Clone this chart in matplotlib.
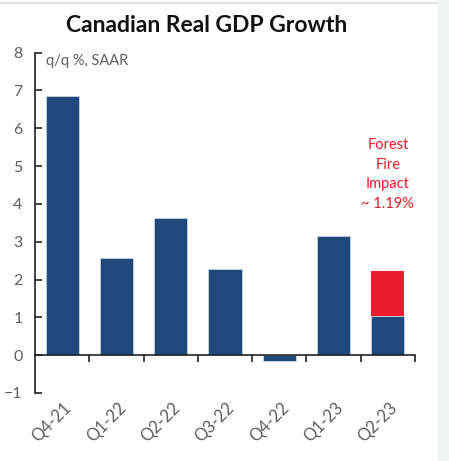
import matplotlib
matplotlib.use("Agg")
import matplotlib.pyplot as plt
import matplotlib.transforms as mtransforms
from matplotlib.patches import Rectangle
from matplotlib.lines import Line2D

categories = ["Q4-21", "Q1-22", "Q2-22", "Q3-22", "Q4-22", "Q1-23", "Q2-23"]
gdp_growth = [6.85, 2.58, 3.63, 2.27, -0.15, 3.15, 1.04]
fire_impact = [0, 0, 0, 0, 0, 0, 1.19]
yticks = [-1, 0, 1, 2, 3, 4, 5, 6, 7, 8]

BLUE = "#1f497d"
RED = "#ed1b2e"
GREY = "#5e5e5e"

plt.rcParams['font.family'] = ['Lato', 'DejaVu Sans']

W, H = 449, 461
fig = plt.figure(figsize=(W / 100, H / 100), dpi=100)
fig.patch.set_facecolor("white")

# right grey strip & top line (screenshot frame)
fig.patches.append(Rectangle((438 / W, 0), 1 - 438 / W, 1, transform=fig.transFigure,
                             facecolor="#f2f3f3", edgecolor="none", zorder=0))
fig.lines.append(Line2D([0, 438 / W], [1 - 3 / H, 1 - 3 / H], transform=fig.transFigure,
                        color="#e2e2e2", lw=1.5))

left, right = 35 / W, 415 / W
y_top_px, y_bot_px = 52.6, 393.0
ax = fig.add_axes([left, 1 - y_bot_px / H, right - left, (y_bot_px - y_top_px) / H])
ax.set_facecolor("white")

x = list(range(len(categories)))
ax.bar(x, gdp_growth, width=0.61, color=BLUE, edgecolor="#c7d3e3", linewidth=0.6, zorder=2)
ax.bar(x, fire_impact, bottom=gdp_growth, width=0.61, color=RED, edgecolor="none",
       linewidth=0, zorder=3)

ax.set_xlim(-0.5, len(categories) - 0.5)
ax.set_ylim(-1, 8)

for s in ["top", "right"]:
    ax.spines[s].set_visible(False)
ax.spines["left"].set_color("#222222")
ax.spines["left"].set_linewidth(1.2)
ax.spines["bottom"].set_position(("data", 0))
ax.spines["bottom"].set_color("#222222")
ax.spines["bottom"].set_linewidth(1.2)
ax.spines["bottom"].set_zorder(4)

ax.set_yticks(yticks)
ax.tick_params(axis="y", direction="in", length=5, width=1.2, color="#222222",
               labelsize=11.5, labelcolor=GREY, pad=9)

ax.set_xticks(x)
ax.set_xticklabels(categories)
ax.set_xticks([i + 0.5 for i in range(len(categories))], minor=True)
ax.tick_params(axis="x", which="major", length=0, pad=36, labelsize=12, labelcolor=GREY)
ax.tick_params(axis="x", which="minor", direction="out", length=5, width=1.2, color="#222222")
offset = mtransforms.ScaledTranslation(7 / 100, 0, fig.dpi_scale_trans)
for lab in ax.get_xticklabels():
    lab.set_rotation(45)
    lab.set_ha("right")
    lab.set_rotation_mode("anchor")
    lab.set_va("center")
    lab.set_transform(lab.get_transform() + offset)

ax.text(-0.3, 7.78, "q/q %, SAAR", fontsize=10.5, color=GREY, va="center", ha="left")
ax.text(6, 4.78, "Forest\nFire\nImpact\n~ 1.19%", fontsize=10.5, color=RED, ha="center",
        va="center", linespacing=1.5)

fig.text(207 / W, 1 - 25 / H, "Canadian Real GDP Growth", fontsize=16.5, fontweight="bold",
         color="#111111", ha="center", va="center")

fig.savefig("out.png", dpi=100, facecolor="white")
